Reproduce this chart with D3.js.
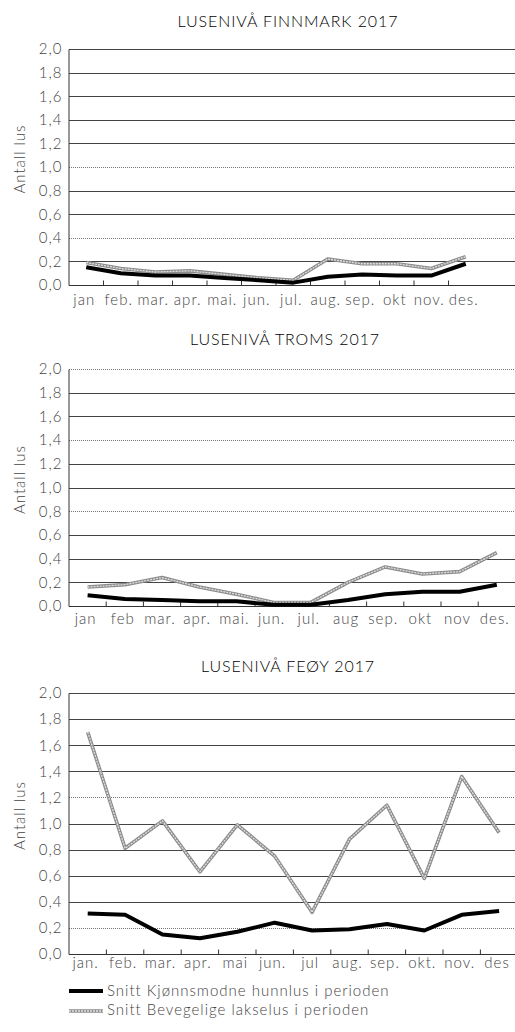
<!DOCTYPE html>
<html>
<head>
<meta charset="utf-8">
<script src="https://cdn.jsdelivr.net/npm/d3@7.9.0/dist/d3.min.js"></script>
<style>
  body { margin: 0; background: #fff; }
  svg { display: block; font-family: Lato, "Open Sans", sans-serif; }
  .tick-label { font-weight: 300; fill: #444; letter-spacing: 1px; }
</style>
</head>
<body>
<svg id="chart" width="515" height="1032"></svg>
<script>
// data
const yTicks = [0, 0.2, 0.4, 0.6, 0.8, 1.0, 1.2, 1.4, 1.6, 1.8, 2.0];

const finnmarkMonths = ['jan', 'feb.', 'mar.', 'apr.', 'mai.', 'jun.', 'jul.', 'aug.', 'sep.', 'okt', 'nov.', 'des.'];
const finnmarkHunnlus = [0.15, 0.10, 0.08, 0.08, 0.06, 0.04, 0.02, 0.07, 0.09, 0.08, 0.08, 0.18];
const finnmarkBevegelige = [0.19, 0.14, 0.11, 0.12, 0.09, 0.06, 0.04, 0.22, 0.18, 0.18, 0.14, 0.24];

const tromsMonths = ['jan', 'feb', 'mar.', 'apr.', 'mai.', 'jun.', 'jul.', 'aug', 'sep.', 'okt', 'nov', 'des.'];
const tromsHunnlus = [0.09, 0.06, 0.05, 0.04, 0.04, 0.01, 0.01, 0.05, 0.10, 0.12, 0.12, 0.18];
const tromsBevegelige = [0.16, 0.18, 0.24, 0.16, 0.10, 0.03, 0.03, 0.20, 0.33, 0.27, 0.29, 0.45];

const feoyMonths = ['jan.', 'feb.', 'mar.', 'apr.', 'mai', 'jun.', 'jul', 'aug.', 'sep.', 'okt.', 'nov.', 'des'];
const feoyHunnlus = [0.31, 0.30, 0.15, 0.12, 0.17, 0.24, 0.18, 0.19, 0.23, 0.18, 0.30, 0.33];
const feoyBevegelige = [1.70, 0.81, 1.02, 0.63, 0.99, 0.75, 0.32, 0.88, 1.14, 0.58, 1.36, 0.93];

const legendLabels = ['Snitt Kjønnsmodne hunnlus i perioden', 'Snitt Bevegelige lakselus i perioden'];

const svg = d3.select('#chart');
const fmt = d => d3.format('.1f')(d).replace('.', ',');

// gray "hatched" line look
function grayLine(g, path) {
  g.append('path').attr('d', path).attr('fill', 'none')
    .attr('stroke', '#8c8c8c').attr('stroke-width', 3.6).attr('stroke-linejoin', 'round');
  g.append('path').attr('d', path).attr('fill', 'none')
    .attr('stroke', '#e2e2e2').attr('stroke-width', 1.3).attr('stroke-dasharray', '2,1').attr('stroke-linejoin', 'round');
}

function drawChart(opts) {
  const g = svg.append('g');
  const left = 69;
  const x = d3.scaleBand().domain(d3.range(12)).range([left, left + 12 * opts.bw]);
  const y = d3.scaleLinear().domain([0, 2]).range([opts.bottom, opts.top]);

  g.append('text')
    .attr('x', opts.titleX).attr('y', opts.titleY)
    .attr('text-anchor', 'middle')
    .attr('font-size', 16).attr('font-weight', 300).attr('fill', '#000')
    .attr('letter-spacing', '0.9px')
    .text(opts.title);

  // gridlines
  g.selectAll('.grid').data(yTicks.slice(1)).join('line')
    .attr('x1', left).attr('x2', 515)
    .attr('y1', d => Math.round(y(d)) + 0.5).attr('y2', d => Math.round(y(d)) + 0.5)
    .attr('stroke', d => opts.dotted.includes(d) ? '#777' : '#444')
    .attr('stroke-dasharray', d => opts.dotted.includes(d) ? '1,1' : null)
    .attr('stroke-width', 1);

  // y axis
  const yAxis = d3.axisLeft(y).tickValues(yTicks).tickSize(0).tickPadding(6).tickFormat(fmt);
  const ya = g.append('g').attr('transform', `translate(${left - 0.5},0)`).call(yAxis);
  ya.select('.domain').attr('stroke', '#333');
  ya.selectAll('text').attr('class', 'tick-label').attr('font-size', 15)
    .attr('font-family', 'Lato, sans-serif');

  // x axis with ticks pointing up
  const xa = g.append('g').attr('transform', `translate(0,${Math.round(y(0)) + 0.5})`);
  xa.append('line').attr('x1', left).attr('x2', 515).attr('stroke', '#333');
  xa.selectAll('.xt').data(d3.range(1, 12)).join('line')
    .attr('x1', d => x(d)).attr('x2', d => x(d))
    .attr('y1', 0).attr('y2', -5).attr('stroke', '#333');
  xa.selectAll('.xl').data(opts.months).join('text')
    .attr('class', 'tick-label')
    .attr('x', (d, i) => x(i) + x.bandwidth() / 2 - 2)
    .attr('y', opts.labelY - Math.round(y(0)))
    .attr('text-anchor', 'middle')
    .attr('font-size', 15)
    .text(d => d);

  // y label
  g.append('text')
    .attr('transform', `translate(25,${(opts.top + opts.bottom) / 2 - 8}) rotate(-90)`)
    .attr('text-anchor', 'middle')
    .attr('class', 'tick-label')
    .attr('font-size', 15)
    .attr('letter-spacing', '0.7px')
    .text('Antall lus');

  const line = d3.line().x((d, i) => x(i) + x.bandwidth() / 2).y(d => y(d));
  grayLine(g, line(opts.bevegelige));
  g.append('path').attr('d', line(opts.hunnlus)).attr('fill', 'none')
    .attr('stroke', '#000').attr('stroke-width', 4).attr('stroke-linejoin', 'round');
}

drawChart({
  title: 'LUSENIVÅ FINNMARK 2017', titleX: 288, titleY: 27,
  top: 49, bottom: 285, bw: 34.5, labelY: 304,
  months: finnmarkMonths, hunnlus: finnmarkHunnlus, bevegelige: finnmarkBevegelige,
  dotted: [1.0, 0.4]
});
drawChart({
  title: 'LUSENIVÅ TROMS 2017', titleX: 285, titleY: 345,
  top: 369, bottom: 606, bw: 37.2, labelY: 623,
  months: tromsMonths, hunnlus: tromsHunnlus, bevegelige: tromsBevegelige,
  dotted: [2.0, 1.4, 0.8]
});
drawChart({
  title: 'LUSENIVÅ FEØY 2017', titleX: 288, titleY: 672,
  top: 693, bottom: 954, bw: 37.4, labelY: 967,
  months: feoyMonths, hunnlus: feoyHunnlus, bevegelige: feoyBevegelige,
  dotted: [1.2, 0.2]
});

// legend
const lg = svg.append('g');
lg.append('line').attr('x1', 69).attr('x2', 103).attr('y1', 991).attr('y2', 991)
  .attr('stroke', '#000').attr('stroke-width', 4);
grayLine(lg, 'M69,1011L103,1011');
lg.selectAll('.lt').data(legendLabels).join('text')
  .attr('class', 'tick-label')
  .attr('x', 107).attr('y', (d, i) => 996 + i * 19)
  .attr('font-size', 15)
  .text(d => d);
</script>
</body>
</html>
